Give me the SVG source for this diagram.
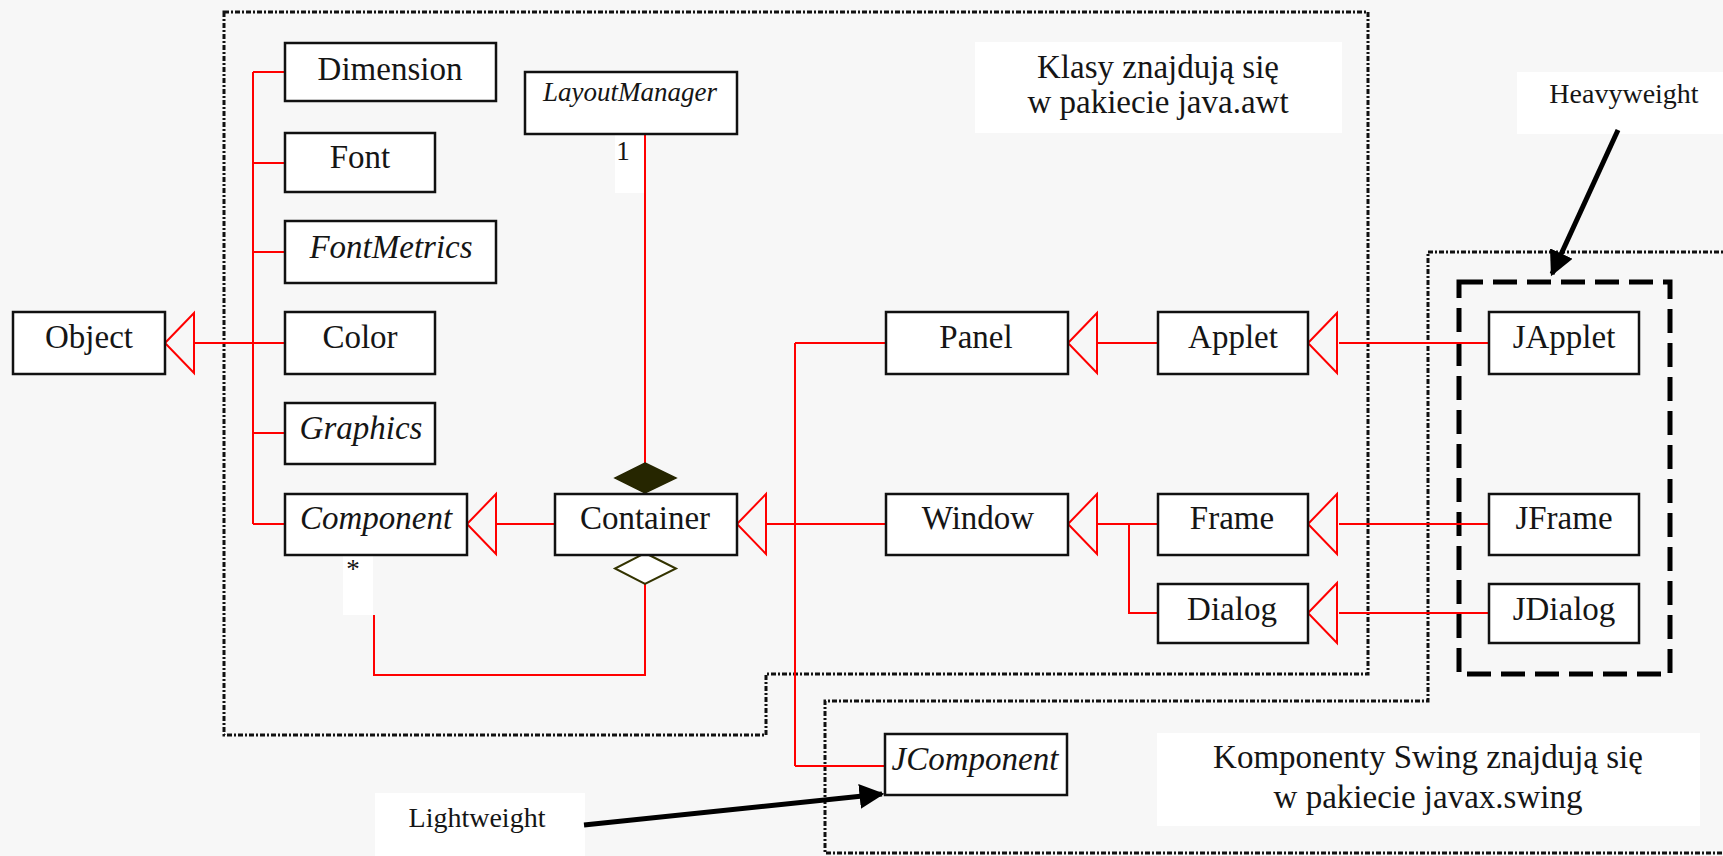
<svg xmlns="http://www.w3.org/2000/svg" xmlns:xlink="http://www.w3.org/1999/xlink" width="1723" height="856" viewBox="0 0 1723 856">
<style>
.bg{fill:#f7f7f7}
.box{fill:#ffffff;stroke:#111;stroke-width:2.5}
.lbl{fill:#ffffff;stroke:none}
.t{font-family:"Liberation Serif","Times New Roman",serif;font-size:33px;fill:#151515;text-anchor:middle}
.i{font-style:italic}
.sm{font-size:28px}
.rel{fill:none;stroke:#ff0000;stroke-width:2}
.tri{fill:none;stroke:#ff0000;stroke-width:2;stroke-linejoin:miter}
.pkg{fill:none;stroke:#111;stroke-width:3;stroke-dasharray:5 2 2 2}
.heavy{fill:none;stroke:#000;stroke-width:5;stroke-dasharray:24 10}
.note{fill:none;stroke:#000;stroke-width:5}
</style>
<defs>
<path id="tri" d="M0,0 L29,-30 L29,30 Z"/>
<marker id="ah" viewBox="0 0 10 10" refX="9" refY="5" markerWidth="5" markerHeight="5" orient="auto" markerUnits="strokeWidth">
<path d="M0,0 L10,5 L0,10 Z" fill="#000"/>
</marker>
</defs>
<rect class="bg" x="0" y="0" width="1723" height="856"/>

<g id="packages">
<path class="pkg" d="M224,12 L1368,12 L1368,674 L766,674 L766,735 L224,735 Z"/>
<path class="pkg" d="M1730,252 L1428,252 L1428,701 L825,701 L825,853 L1730,853"/>
<rect class="heavy" x="1459" y="282" width="211" height="392"/>
</g>

<g id="notes">
<g id="note-awt">
<rect class="lbl" x="975" y="42" width="367" height="91"/>
<text class="t" x="1158" y="78">Klasy znajdują się</text>
<text class="t" x="1158" y="113">w pakiecie java.awt</text>
</g>
<g id="note-swing">
<rect class="lbl" x="1157" y="733" width="543" height="93"/>
<text class="t" x="1428" y="768">Komponenty Swing znajdują się</text>
<text class="t" x="1428" y="808">w pakiecie javax.swing</text>
</g>
<g id="note-heavy">
<rect class="lbl" x="1517" y="72" width="206" height="62"/>
<text class="t sm" x="1624" y="103">Heavyweight</text>
</g>
<g id="note-light">
<rect class="lbl" x="375" y="793" width="210" height="63"/>
<text class="t sm" x="477" y="827">Lightweight</text>
</g>
</g>

<g id="connectors">
<!-- Object hierarchy -->
<path class="rel" d="M194,343 L285,343 M253,72 L253,524 M253,72 L285,72 M253,163 L285,163 M253,252 L285,252 M253,433 L285,433 M253,524 L285,524"/>
<use xlink:href="#tri" class="tri" x="165" y="343"/>
<!-- Container -> Component -->
<path class="rel" d="M496,524 L555,524"/>
<use xlink:href="#tri" class="tri" x="467" y="524"/>
<!-- LayoutManager composition -->
<path class="rel" d="M645,134 L645,463"/>
<path d="M645,463 L676,478 L645,493 L615,478 Z" fill="#262600" stroke="#262600" stroke-width="1.5"/>
<!-- Component aggregation -->
<path class="rel" d="M645,584 L645,675 L374,675 L374,615"/>
<path d="M645,553 L676,568.5 L645,584 L615,568.5 Z" fill="#ffffff" stroke="#333300" stroke-width="2"/>
<!-- Panel, Window, JComponent -> Container -->
<path class="rel" d="M766,524 L886,524 M795,343 L795,766 M795,343 L886,343 M795,766 L885,766"/>
<use xlink:href="#tri" class="tri" x="737" y="524"/>
<!-- Applet -> Panel -->
<path class="rel" d="M1097,343 L1158,343"/>
<use xlink:href="#tri" class="tri" x="1068" y="343"/>
<!-- Frame, Dialog -> Window -->
<path class="rel" d="M1097,524 L1158,524 M1129,524 L1129,613 L1158,613"/>
<use xlink:href="#tri" class="tri" x="1068" y="524"/>
<!-- Swing heavyweights -->
<path class="rel" d="M1339,343 L1489,343 M1339,524 L1489,524 M1339,613 L1489,613"/>
<use xlink:href="#tri" class="tri" x="1308" y="343"/>
<use xlink:href="#tri" class="tri" x="1308" y="524"/>
<use xlink:href="#tri" class="tri" x="1308" y="613"/>
<!-- note arrows -->
<line class="note" x1="1618" y1="130" x2="1552" y2="274" marker-end="url(#ah)"/>
<line class="note" x1="584" y1="825" x2="882" y2="794" marker-end="url(#ah)"/>
</g>

<g id="mult-1">
<rect class="lbl" x="615" y="135" width="29" height="58"/>
<text class="t" style="font-size:27px" x="623" y="160">1</text>
</g>
<g id="mult-star">
<rect class="lbl" x="343" y="556" width="30" height="59"/>
<text class="t" style="font-size:27px" x="353" y="578">*</text>
</g>

<g id="Object"><rect class="box" x="13" y="312" width="152" height="62"/><text class="t" x="89" y="348">Object</text></g>
<g id="Dimension"><rect class="box" x="285" y="43" width="211" height="58"/><text class="t" x="390" y="80">Dimension</text></g>
<g id="Font"><rect class="box" x="285" y="133" width="150" height="59"/><text class="t" x="360" y="168">Font</text></g>
<g id="FontMetrics"><rect class="box" x="285" y="221" width="211" height="62"/><text class="t i" x="391" y="258">FontMetrics</text></g>
<g id="Color"><rect class="box" x="285" y="312" width="150" height="62"/><text class="t" x="360" y="348">Color</text></g>
<g id="Graphics"><rect class="box" x="285" y="403" width="150" height="61"/><text class="t i" x="361" y="439">Graphics</text></g>
<g id="Component"><rect class="box" x="285" y="494" width="182" height="61"/><text class="t i" x="376" y="529">Component</text></g>
<g id="LayoutManager"><rect class="box" x="525" y="72" width="212" height="62"/><text class="t i" style="font-size:27px" x="630" y="101">LayoutManager</text></g>
<g id="Container"><rect class="box" x="555" y="494" width="182" height="61"/><text class="t" x="645" y="529">Container</text></g>
<g id="Panel"><rect class="box" x="886" y="312" width="182" height="62"/><text class="t" x="976" y="348">Panel</text></g>
<g id="Window"><rect class="box" x="886" y="494" width="182" height="61"/><text class="t" x="978" y="529">Window</text></g>
<g id="Applet"><rect class="box" x="1158" y="312" width="150" height="62"/><text class="t" x="1233" y="348">Applet</text></g>
<g id="Frame"><rect class="box" x="1158" y="494" width="150" height="61"/><text class="t" x="1232" y="529">Frame</text></g>
<g id="Dialog"><rect class="box" x="1158" y="584" width="150" height="59"/><text class="t" x="1232" y="620">Dialog</text></g>
<g id="JApplet"><rect class="box" x="1489" y="312" width="150" height="62"/><text class="t" x="1564" y="348">JApplet</text></g>
<g id="JFrame"><rect class="box" x="1489" y="494" width="150" height="61"/><text class="t" x="1564" y="529">JFrame</text></g>
<g id="JDialog"><rect class="box" x="1489" y="584" width="150" height="59"/><text class="t" x="1564" y="620">JDialog</text></g>
<g id="JComponent"><rect class="box" x="885" y="734" width="182" height="61"/><text class="t i" x="975" y="770">JComponent</text></g>
</svg>
